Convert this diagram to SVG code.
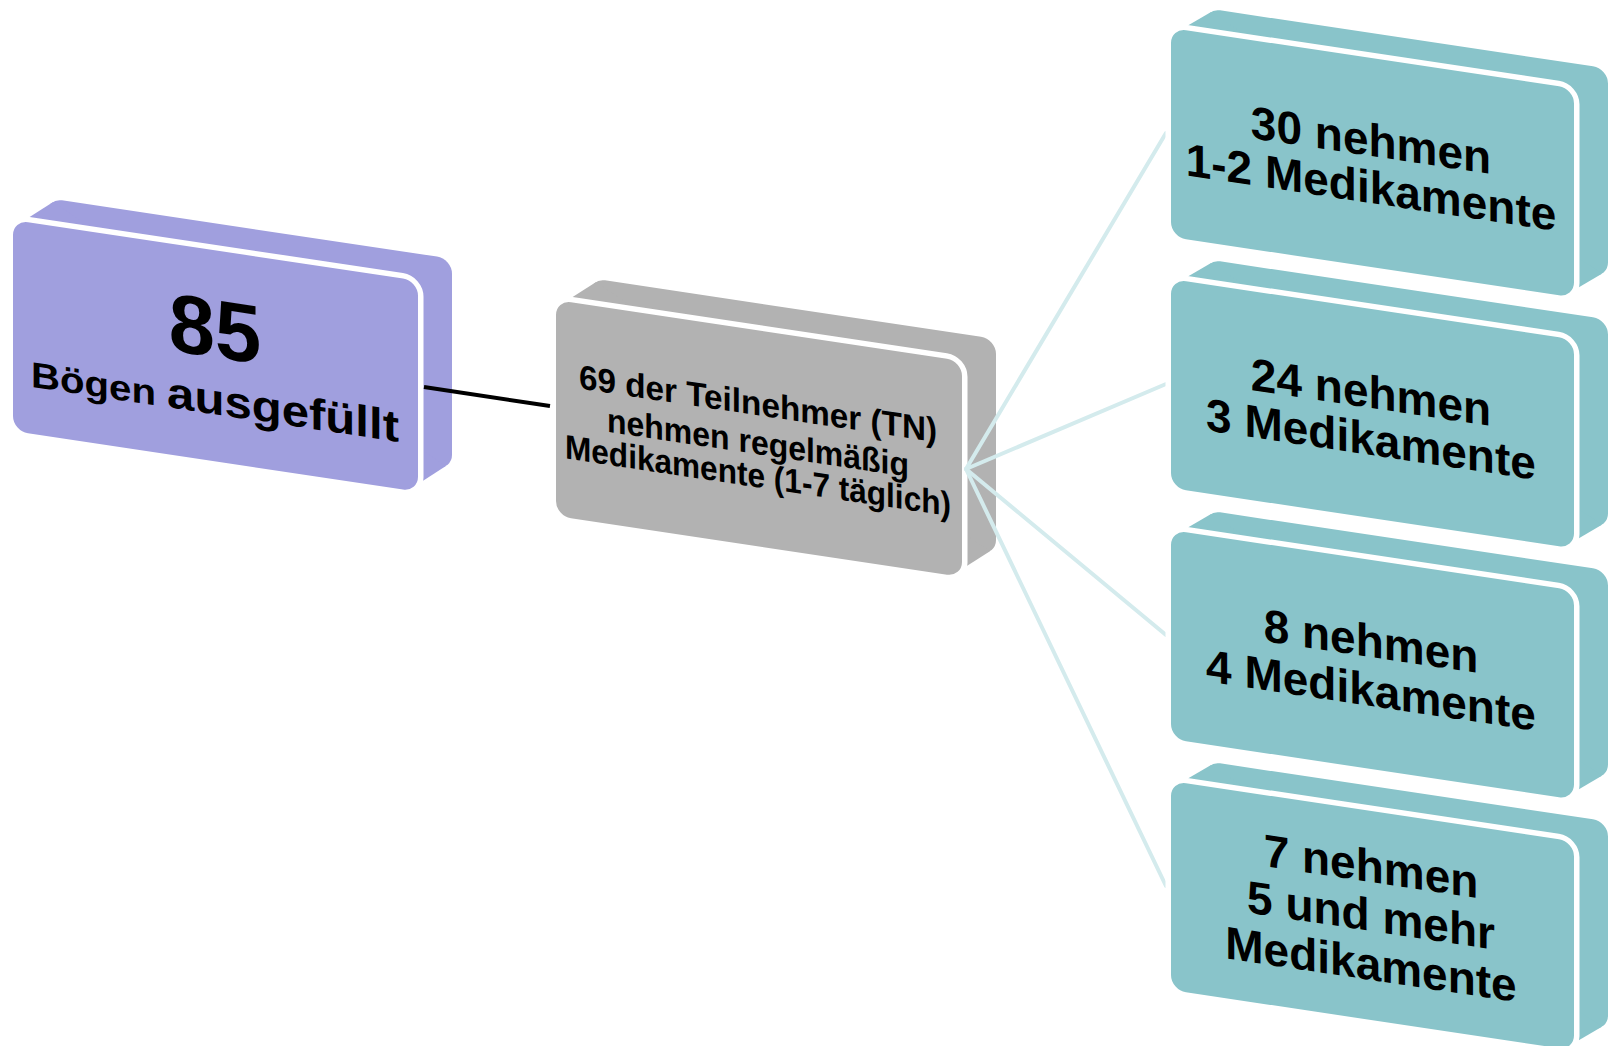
<svg xmlns="http://www.w3.org/2000/svg" width="1615" height="1046" viewBox="0 0 1615 1046">
<style>
.t{font-family:"Liberation Sans",Arial,sans-serif;font-weight:bold;fill:#000;text-anchor:middle}
.face{stroke:#fff;stroke-width:11;paint-order:stroke}
.pu{fill:#A09FDE}
.gr{fill:#B2B2B2}
.te{fill:#89C4CA}
.lnk{stroke:#D4EBED;stroke-width:4;fill:none;stroke-linecap:round}
.blk{stroke:#000;stroke-width:4;fill:none}
</style>
<rect width="1615" height="1046" fill="#fff"/>
<g id="node-85" transform="matrix(1,0.15,0,1,13,220)">
  <rect class="pu" x="34" y="-27" width="405" height="211" rx="15"/>
  <polygon class="pu" points="6.1,2.9 40.1,-24.1 432.9,181.1 398.9,208.1"/>
  <rect class="pu face" x="0" y="0" width="405" height="211" rx="15"/>
  <text class="t" x="202" y="107" font-size="83">85</text>
  <text class="t" x="202" y="164" font-size="38" textLength="368" lengthAdjust="spacingAndGlyphs"><tspan font-size="36">Bögen </tspan><tspan font-size="44">ausgefüllt</tspan></text>
</g>
<g id="node-69" transform="matrix(1,0.15,0,1,556,300)">
  <rect class="gr" x="34" y="-27" width="406" height="216" rx="15"/>
  <polygon class="gr" points="6.1,2.9 40.1,-24.1 433.9,186.1 399.9,213.1"/>
  <rect class="gr face" x="0" y="0" width="406" height="216" rx="15"/>
  <text class="t" x="202" y="85" font-size="34" textLength="358" lengthAdjust="spacingAndGlyphs">69 der Teilnehmer (TN)</text>
  <text class="t" x="202" y="124" font-size="34" textLength="302" lengthAdjust="spacingAndGlyphs">nehmen regelmäßig</text>
  <text class="t" x="202" y="157" font-size="34" textLength="386" lengthAdjust="spacingAndGlyphs">Medikamente (1-7 täglich)</text>
</g>
<g id="connectors">
  <line class="blk" x1="424" y1="387" x2="550" y2="406"/>
  <line class="lnk" x1="966" y1="469" x2="1166" y2="133"/>
  <line class="lnk" x1="966" y1="469" x2="1166" y2="384"/>
  <line class="lnk" x1="966" y1="469" x2="1166" y2="635"/>
  <line class="lnk" x1="966" y1="469" x2="1166" y2="886"/>
</g>
<g id="node-30" transform="matrix(1,0.15,0,1,1171,28)">
  <rect class="te" x="34" y="-25" width="403" height="209" rx="15"/>
  <polygon class="te" points="6.1,2.9 40.1,-22.1 430.9,181.1 396.9,206.1"/>
  <rect class="te face" x="0" y="0" width="403" height="209" rx="15"/>
  <text class="t" x="200" y="98" font-size="46">30 nehmen</text>
  <text class="t" x="200" y="145" font-size="46">1-2 Medikamente</text>
</g>
<g id="node-24" transform="matrix(1,0.15,0,1,1171,279)">
  <rect class="te" x="34" y="-25" width="403" height="209" rx="15"/>
  <polygon class="te" points="6.1,2.9 40.1,-22.1 430.9,181.1 396.9,206.1"/>
  <rect class="te face" x="0" y="0" width="403" height="209" rx="15"/>
  <text class="t" x="200" y="99" font-size="46">24 nehmen</text>
  <text class="t" x="200" y="146" font-size="46">3 Medikamente</text>
</g>
<g id="node-8" transform="matrix(1,0.15,0,1,1171,530)">
  <rect class="te" x="34" y="-25" width="403" height="209" rx="15"/>
  <polygon class="te" points="6.1,2.9 40.1,-22.1 430.9,181.1 396.9,206.1"/>
  <rect class="te face" x="0" y="0" width="403" height="209" rx="15"/>
  <text class="t" x="200" y="97" font-size="46">8 nehmen</text>
  <text class="t" x="200" y="146" font-size="46">4 Medikamente</text>
</g>
<g id="node-7" transform="matrix(1,0.15,0,1,1171,781)">
  <rect class="te" x="34" y="-25" width="403" height="209" rx="15"/>
  <polygon class="te" points="6.1,2.9 40.1,-22.1 430.9,181.1 396.9,206.1"/>
  <rect class="te face" x="0" y="0" width="403" height="209" rx="15"/>
  <text class="t" x="200" y="71" font-size="46">7 nehmen</text>
  <text class="t" x="200" y="120" font-size="46">5 und mehr</text>
  <text class="t" x="200" y="169" font-size="46">Medikamente</text>
</g>
</svg>
